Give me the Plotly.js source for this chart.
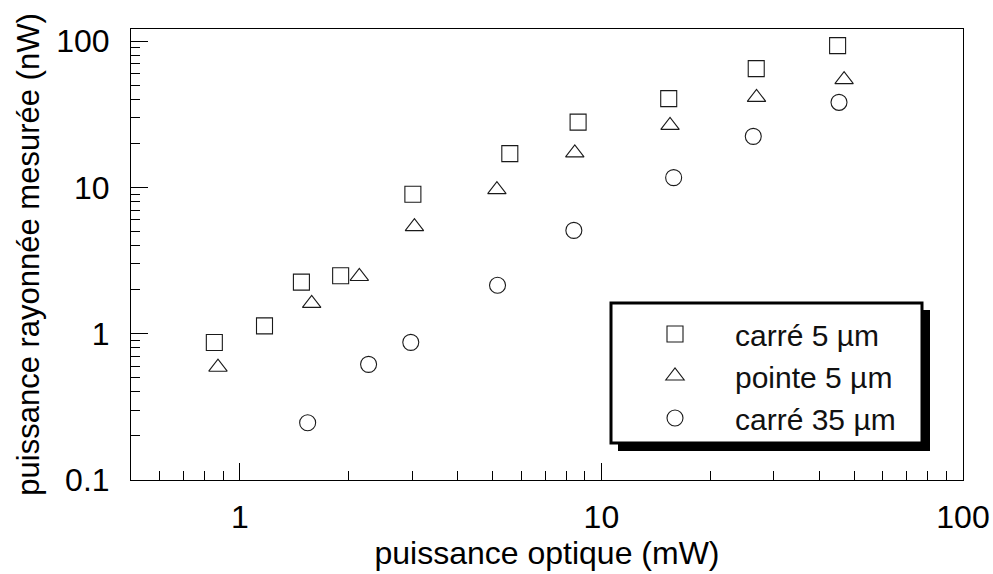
<!DOCTYPE html>
<html>
<head>
<meta charset="utf-8">
<script src="https://cdn.plot.ly/plotly-3.0.1.min.js"></script>
<style>
  html, body { margin: 0; padding: 0; background: #fff; }
  #chart { width: 993px; height: 574px; }
</style>
</head>
<body>
<div id="chart"></div>
<script>
// ---- data ----
const seriesNames = ["carré 5 µm", "pointe 5 µm", "carré 35 µm"];

const carre5X = [0.85, 1.17, 1.48, 1.90, 3.01, 5.58, 8.62, 15.35, 26.8, 45.0];
const carre5Y = [0.87, 1.13, 2.25, 2.49, 8.96, 17.0, 27.9, 40.4, 64.8, 93.0];

const pointe5X = [0.87, 1.58, 2.14, 3.04, 5.14, 8.44, 15.48, 26.85, 46.9];
const pointe5Y = [0.59, 1.61, 2.46, 5.39, 9.65, 17.2, 26.5, 41.2, 54.5];

const carre35X = [1.54, 2.27, 2.97, 5.16, 8.39, 15.84, 26.3, 45.4];
const carre35Y = [0.246, 0.617, 0.872, 2.14, 5.08, 11.65, 22.3, 38.1];

const xTitle = "puissance optique (mW)";
const yTitle = "puissance rayonnée mesurée (nW)";

// ---- layout helpers (pixel -> paper) ----
const W = 993, H = 574;
const M = { l: 131, r: 30, t: 29, b: 94 };
const PW = W - M.l - M.r, PH = H - M.t - M.b;
const px = x => (x - M.l) / PW;
const py = y => (H - M.b - y) / PH;

const FONT = "Liberation Sans, Arial, Helvetica, sans-serif";
const INK = "#1a1a1a";
const FS = 32;

function mk(xs, ys, name, symbol, size) {
  return {
    type: "scatter", mode: "markers", x: xs, y: ys, name: name,
    marker: { symbol: symbol, size: size, color: INK,
              line: { color: INK, width: 1.1 } },
    cliponaxis: false
  };
}

const traces = [
  mk(carre5X, carre5Y, seriesNames[0], "square-open", 16),
  mk(pointe5X, pointe5Y, seriesNames[1], "triangle-up-open", 16),
  mk(carre35X, carre35Y, seriesNames[2], "circle-open", 16)
];

const axisCommon = {
  type: "log",
  showgrid: false, zeroline: false,
  showline: true, linecolor: "#000", linewidth: 1, mirror: true,
  ticks: "inside", ticklen: 17, tickwidth: 1, tickcolor: "#000",
  dtick: 1,
  tickfont: { family: FONT, size: FS, color: "#000" },
  minor: { ticks: "inside", ticklen: 9, tickwidth: 1, tickcolor: "#000",
           dtick: "D1", showgrid: false }
};

const layout = {
  width: W, height: H,
  margin: M,
  paper_bgcolor: "#fff", plot_bgcolor: "#fff",
  font: { family: FONT, size: FS, color: "#000" },
  showlegend: true,
  xaxis: Object.assign({}, axisCommon, {
    range: [Math.log10(0.5), 2],
    ticklabelstandoff: 9,
    title: { text: xTitle, font: { family: FONT, size: FS, color: "#000" }, standoff: 2 }
  }),
  yaxis: Object.assign({}, axisCommon, {
    range: [-1, Math.log10(120.8)],
    ticklabelstandoff: 14,
    title: { text: yTitle, font: { family: FONT, size: 31, color: "#000" }, standoff: 7 }
  }),
  legend: {
    x: px(615), y: py(308), xanchor: "left", yanchor: "top",
    bgcolor: "rgba(0,0,0,0)", borderwidth: 0,
    font: { family: FONT, size: 30, color: "#111" },
    itemwidth: 110, tracegroupgap: 0
  },
  shapes: [
    // legend drop shadow
    { type: "rect", xref: "paper", yref: "paper", layer: "above",
      x0: px(618), x1: px(930), y0: py(451), y1: py(310),
      fillcolor: "#000", line: { width: 0 } },
    // legend box
    { type: "rect", xref: "paper", yref: "paper", layer: "above",
      x0: px(611), x1: px(922), y0: py(443), y1: py(303),
      fillcolor: "#fff", line: { color: "#000", width: 3 } }
  ]
};

Plotly.newPlot("chart", traces, layout, { displayModeBar: false, staticPlot: true });
</script>
</body>
</html>
